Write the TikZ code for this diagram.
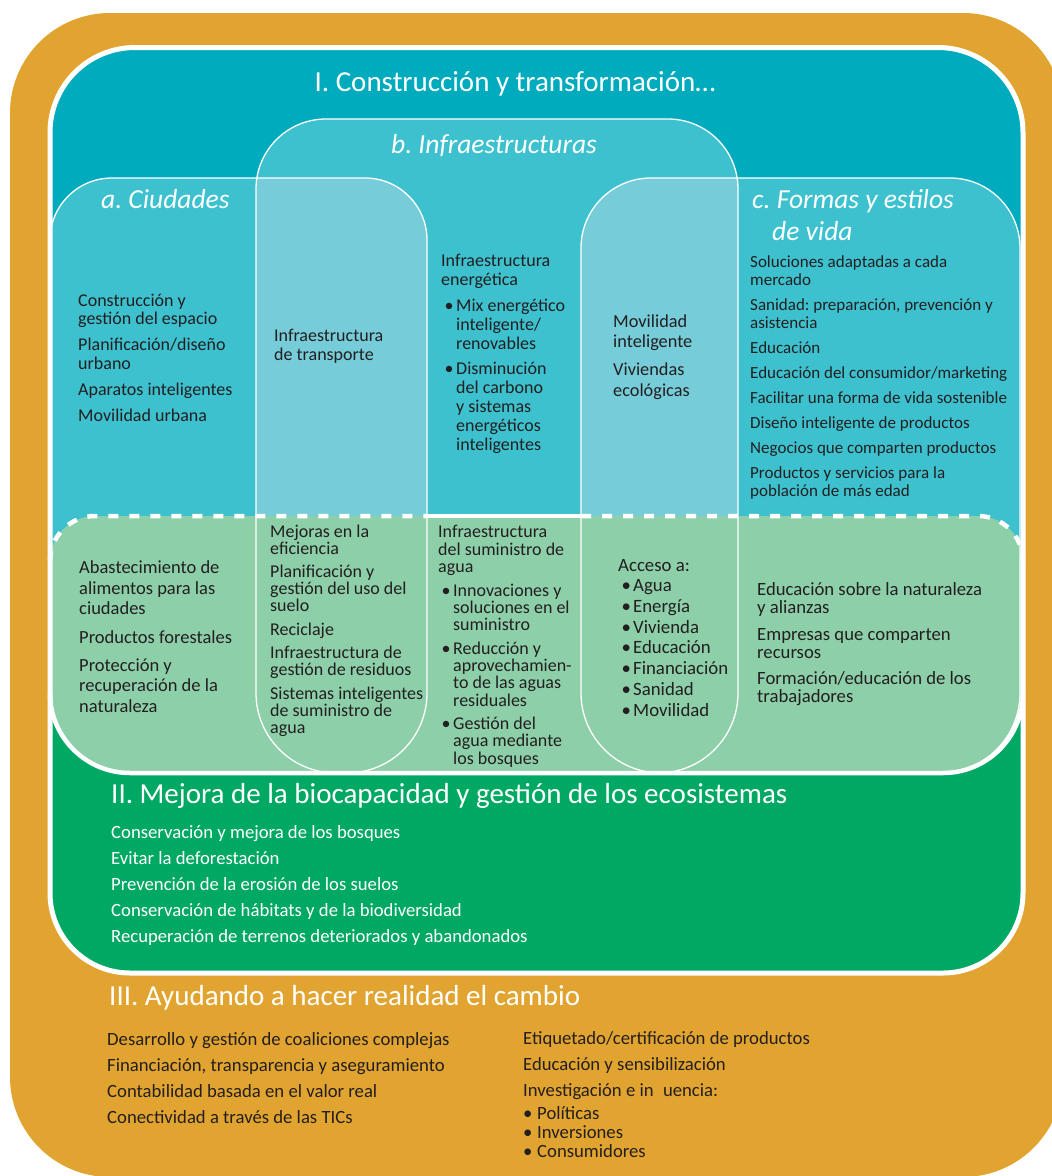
\documentclass[tikz,border=0pt]{standalone}
\usepackage{fontspec}
\setmainfont{Carlito}
\frenchspacing
\definecolor{ochre}{HTML}{E2A430}
\definecolor{deepteal}{HTML}{00ABBD}
\definecolor{boxteal}{HTML}{3DC1CF}
\definecolor{overteal}{HTML}{76CCD8}
\definecolor{palegreen}{HTML}{8DCFA9}
\definecolor{deepgreen}{HTML}{00A963}
\definecolor{ink}{HTML}{231F20}
% box with top radius #5 and bottom radius #6
\newcommand{\roundbox}[6]{(#1,#2+#5) arc[start angle=180,end angle=270,radius=#5] -- (#3-#5,#2) arc[start angle=270,end angle=360,radius=#5] -- (#3,#4-#6) arc[start angle=0,end angle=90,radius=#6] -- (#1+#6,#4) arc[start angle=90,end angle=180,radius=#6] -- cycle}
\newcommand{\bul}{\hspace*{3.5pt}\makebox[11.5pt][l]{\textbullet}}
\newcommand{\hng}{\hspace*{15pt}}
\tikzset{
  txt/.style={anchor=base west, inner sep=0pt, align=left, text=ink},
  body/.style={txt, font=\fontsize{18}{18.5}\selectfont},
  bighead/.style={txt, text=white, font=\fontsize{29}{32}\selectfont},
  subhead/.style={txt, text=white, font=\itshape\fontsize{27.5}{32}\selectfont},
  listtxt/.style={txt, text=white, font=\fontsize{18.7}{26}\selectfont},
  thinedge/.style={draw=white, line width=1.3pt},
  dashedge/.style={draw=white, line width=4.5pt, dash pattern=on 10pt off 11pt},
  solidedge/.style={draw=white, line width=4.5pt}
}
\begin{document}
\begin{tikzpicture}[x=1pt,y=-1pt]
\useasboundingbox (0,0) rectangle (1052,1176);
\clip (0,0) rectangle (1052,1176);
% outer band III
\fill[ochre] \roundbox{10}{13}{1063}{1177}{100}{100};
% frame of I and II
\fill[deepgreen] \roundbox{50}{47.5}{1023}{973}{85}{80};
\begin{scope}
\clip \roundbox{50}{47.5}{1023}{973}{85}{80};
\fill[deepteal] (40,40) rectangle (1030,640);
\end{scope}
% a, b, c
\fill[boxteal] \roundbox{50}{178}{427}{773}{62}{80};
\fill[boxteal] \roundbox{256}{119}{738}{773}{70}{80};
\fill[boxteal] \roundbox{581}{178}{1020}{773}{70}{80};
\begin{scope}
\clip \roundbox{50}{178}{427}{773}{62}{80};
\fill[overteal] \roundbox{256}{119}{738}{773}{70}{80};
\end{scope}
\begin{scope}
\clip \roundbox{581}{178}{1020}{773}{70}{80};
\fill[overteal] \roundbox{256}{119}{738}{773}{70}{80};
\end{scope}
% green band
\fill[palegreen] \roundbox{50}{516}{1023}{773}{45}{80};
\draw[thinedge] \roundbox{50}{178}{427}{773}{62}{80};
\draw[thinedge] \roundbox{256}{119}{738}{773}{70}{80};
\draw[thinedge] \roundbox{581}{178}{1020}{773}{70}{80};
\draw[dashedge] (50,561) arc[start angle=180,end angle=270,radius=45] -- (427,516);
\draw[solidedge] (427,516) -- (581,516);
\draw[dashedge] (581,516) -- (978,516) arc[start angle=270,end angle=360,radius=45];
\draw[solidedge] (50,693) arc[start angle=180,end angle=90,radius=80] -- (943,773) arc[start angle=90,end angle=0,radius=80];
\draw[white, line width=5pt] \roundbox{50}{47.5}{1023}{973}{85}{80};

% headings (multi-line nodes sit on their last line)
\node[bighead, anchor=base] (titleI) at (515,91) {I. Construcción y transformación…};
\node[subhead, anchor=base] (headB) at (494,153) {b. Infraestructuras};
\node[subhead] (headA) at (101,208) {a. Ciudades};
\node[subhead] (headC) at (752,240) {c. Formas y estilos\\\hspace*{20pt}de vida};

% upper texts
\node[body] (cityTop) at (78,421) {Construcción y\\gestión del espacio\\[7.5pt]Planificación/diseño\\urbano\\[7.5pt]Aparatos inteligentes\\[7.5pt]Movilidad urbana};
\node[body, font=\fontsize{18}{19}\selectfont] (transport) at (274,360) {Infraestructura\\de transporte};
\node[body, font=\fontsize{18}{18.8}\selectfont] (energy) at (441,450) {Infraestructura\\energética\\[7pt]\bul Mix energético\\\hng inteligente/\\\hng renovables\\[7pt]\bul Disminución\\\hng del carbono\\\hng y sistemas\\\hng energéticos\\\hng inteligentes};
\node[body, font=\fontsize{18.3}{20.5}\selectfont] (mobility) at (613,396) {Movilidad\\inteligente\\[7.5pt]Viviendas\\ecológicas};
\node[body, font=\fontsize{17}{18}\selectfont] (lifestyle) at (750,496) {Soluciones adaptadas a cada\\mercado\\[7pt]Sanidad: preparación, prevención y\\asistencia\\[7pt]Educación\\[7pt]Educación del consumidor/marketing\\[7pt]Facilitar una forma de vida sostenible\\[7pt]Diseño inteligente de productos\\[7pt]Negocios que comparten productos\\[7pt]Productos y servicios para la\\población de más edad};

% green band texts
\node[body, font=\fontsize{18.5}{20.3}\selectfont] (food) at (79,712) {Abastecimiento de\\alimentos para las\\ciudades\\[8.5pt]Productos forestales\\[8pt]Protección y\\recuperación de la\\naturaleza};
\node[body, font=\fontsize{18}{17}\selectfont] (efficiency) at (270,733) {Mejoras en la\\eficiencia\\[6.5pt]Planificación y\\gestión del uso del\\suelo\\[6.5pt]Reciclaje\\[6.5pt]Infraestructura de\\gestión de residuos\\[6.5pt]Sistemas inteligentes\\de suministro de\\agua};
\node[body, font=\fontsize{18}{17.3}\selectfont] (water) at (438,764) {Infraestructura\\del suministro de\\agua\\[6.5pt]\bul Innovaciones y\\\hng soluciones en el\\\hng suministro\\[6pt]\bul Reducción y\\\hng aprovechamien-\\\hng to de las aguas\\\hng residuales\\[6pt]\bul Gestión del\\\hng agua mediante\\\hng los bosques};
\node[body, font=\fontsize{18.8}{20.7}\selectfont] (access) at (618,716) {Acceso a:\\\bul Agua\\\bul Energía\\\bul Vivienda\\\bul Educación\\\bul Financiación\\\bul Sanidad\\\bul Movilidad};
\node[body, font=\fontsize{18.7}{18}\selectfont] (education) at (757,702) {Educación sobre la naturaleza\\y alianzas\\[9pt]Empresas que comparten\\recursos\\[8pt]Formación/educación de los\\trabajadores};

% section II
\node[bighead] (titleII) at (111,803) {II. Mejora de la biocapacidad y gestión de los ecosistemas};
\node[listtxt] (ecoList) at (111,942) {Conservación y mejora de los bosques\\Evitar la deforestación\\Prevención de la erosión de los suelos\\Conservación de hábitats y de la biodiversidad\\Recuperación de terrenos deteriorados y abandonados};

% section III
\node[bighead] (titleIII) at (109,1005) {III. Ayudando a hacer realidad el cambio};
\node[listtxt, text=ink, font=\fontsize{18.7}{25.7}\selectfont] (changeLeft) at (107,1123) {Desarrollo y gestión de coaliciones complejas\\Financiación, transparencia y aseguramiento\\Contabilidad basada en el valor real\\Conectividad a través de las TICs};
\node[listtxt, text=ink, font=\fontsize{18.7}{19}\selectfont] (changeRight) at (523,1157) {Etiquetado/certificación de productos\\[7pt]Educación y sensibilización\\[7pt]Investigación e in\hspace{0.5em}uencia:\\[4pt]\makebox[14pt][l]{\textbullet}Políticas\\\makebox[14pt][l]{\textbullet}Inversiones\\\makebox[14pt][l]{\textbullet}Consumidores};
\end{tikzpicture}
\end{document}
